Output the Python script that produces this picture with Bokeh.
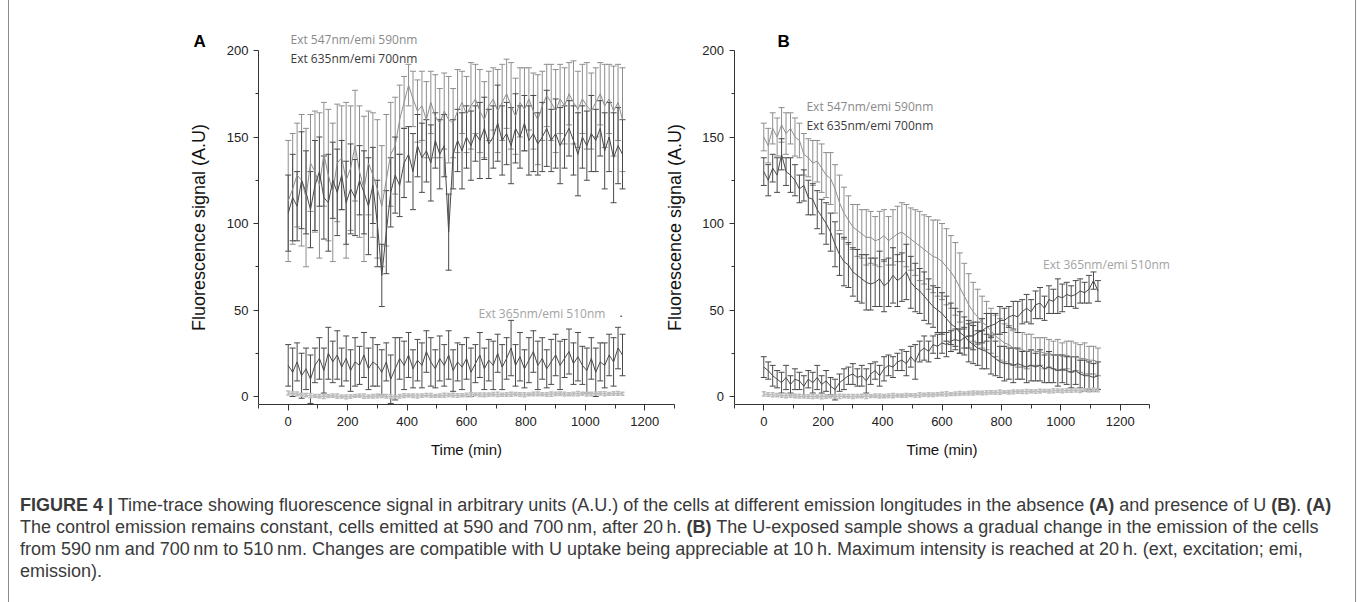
from bokeh.plotting import figure
from bokeh.models import ColumnDataSource, Whisker, TeeHead, Label, Range1d, FixedTicker, Div
from bokeh.layouts import row, column
from bokeh.embed import file_html
from bokeh.resources import INLINE

# ---------------- data ----------------
TIME = list(range(0, 1126, 15))  # minutes, 76 samples

X_TICKS = [0, 200, 400, 600, 800, 1000, 1200]
X_MINOR = [-100, 100, 300, 500, 700, 900, 1100, 1300]
Y_TICKS = [0, 50, 100, 150, 200]
Y_MINOR = [25, 75, 125, 175]

# Panel A (control)
A_590_MEAN = [113,120,128,125,115,135,130,122,140,128,
              118,135,138,125,132,145,130,120,135,128,
              120,110,125,140,145,160,170,180,172,165,
              168,160,170,162,158,165,160,158,165,170,
              163,168,172,165,160,168,172,165,170,175,
              168,162,170,166,172,165,160,168,174,170,
              165,172,168,175,170,166,172,168,165,170,
              175,168,172,165,170,160]
A_590_ERR = [35,32,30,38,40,28,35,42,30,38,
             40,34,30,45,36,32,38,42,30,36,
             40,35,38,30,28,20,15,12,16,18,
             20,22,18,24,20,22,25,20,24,18,
             22,25,20,24,22,20,18,24,22,20,
             25,22,20,24,18,22,26,20,18,22,
             24,20,22,18,24,22,20,25,22,20,
             18,24,20,26,22,30]
A_700_MEAN = [106,115,110,125,118,108,122,130,115,112,
              125,118,128,112,120,115,125,118,110,122,
              100,70,95,118,128,122,135,140,130,145,
              138,142,135,148,140,145,95,140,148,142,
              150,145,152,148,155,146,150,158,148,152,
              145,155,150,158,148,152,146,150,155,148,
              152,145,150,155,148,140,150,145,152,148,
              155,142,150,138,145,140]
A_700_ERR = [22,25,20,28,24,22,26,20,24,28,
             22,25,20,24,26,22,20,24,28,22,
             25,18,24,20,22,18,20,16,22,18,
             20,18,22,16,20,18,22,20,18,22,
             18,20,16,22,18,20,18,22,20,18,
             22,20,18,16,20,22,18,20,22,18,
             20,22,18,16,20,24,18,20,22,18,
             16,22,20,26,22,20]
A_510_MEAN = [18,14,20,12,16,10,18,22,15,25,
              20,24,17,22,15,20,18,24,16,20,
              18,14,20,10,16,22,18,24,16,21,
              18,26,20,16,22,18,24,15,20,17,
              22,14,19,24,16,21,18,25,17,22,
              28,18,23,16,21,26,18,22,16,20,
              24,18,22,26,19,23,18,15,22,14,
              20,18,24,20,28,24]
A_510_ERR = [12,14,11,13,12,14,10,12,13,15,
             12,14,11,13,12,14,11,13,12,14,
             12,13,11,14,18,12,14,13,11,12,
             13,12,14,11,13,12,14,12,11,13,
             12,14,11,13,12,12,14,11,13,12,
             16,12,14,11,13,12,14,12,11,13,
             12,14,11,13,12,14,11,13,12,14,
             11,13,12,14,12,12]
A_BASE_MEAN = [2.0,1.8,1.5,1.0,0.8,0.5,0.3,0.2,0.0,0.3,
               0.5,0.2,0.0,-0.2,0.0,0.3,0.5,0.2,0.0,0.2,
               0.4,0.3,0.1,0.0,-0.3,0.2,0.5,0.6,0.4,0.3,
               0.5,0.8,0.6,0.4,0.5,0.7,0.9,0.8,0.6,0.7,
               0.9,1.0,1.2,1.0,0.9,1.1,1.3,1.2,1.0,1.1,
               1.3,1.4,1.2,1.0,1.2,1.4,1.5,1.3,1.2,1.4,
               1.5,1.6,1.4,1.3,1.5,1.7,1.6,1.4,1.5,1.7,
               1.8,1.6,1.5,1.7,1.8,1.6]
A_BASE_ERR = [1.2,1.0,1.1,0.9,1.0,1.2,0.8,1.0,1.1,0.9,
              1.0,1.2,0.9,1.1,1.0,0.8,1.0,1.2,0.9,1.0,
              1.1,0.9,1.0,1.2,0.8,1.0,1.1,0.9,1.0,1.2,
              0.9,1.0,1.1,0.8,1.0,1.2,0.9,1.1,1.0,0.9,
              1.0,1.2,0.8,1.0,1.1,0.9,1.0,1.2,0.9,1.0,
              1.1,0.9,1.0,1.2,0.8,1.0,1.1,0.9,1.0,1.2,
              0.9,1.0,1.1,0.8,1.0,1.2,0.9,1.1,1.0,0.9,
              1.0,1.2,0.8,1.0,1.1,0.9]

# Panel B (U exposed)
B_590_MEAN = [150,145,155,150,157,152,155,150,148,140,
              138,135,136,132,128,126,120,112,106,102,
              98,96,94,92,92,90,91,93,90,92,
              94,95,93,91,89,87,85,83,81,80,
              78,75,72,68,63,58,53,49,46,43,
              41,38,35,33,31,30,28,27,27,26,
              27,26,26,25,25,24,24,23,24,23,
              23,22,22,21,21,20]
B_590_ERR = [8,10,9,11,10,12,9,11,10,12,
             11,13,12,14,13,15,14,16,15,14,
             13,15,14,16,15,14,16,15,14,16,
             16,17,18,18,19,20,20,21,21,22,
             22,22,21,21,20,19,18,17,16,15,
             14,13,12,12,11,11,10,10,10,10,
             9,8,8,9,8,8,9,8,8,9,
             8,8,9,8,8,8]
B_700_MEAN = [130,125,132,128,140,130,128,125,120,122,
              115,114,108,104,100,95,88,82,78,76,
              72,70,68,66,65,66,68,64,66,70,
              67,69,72,66,63,61,58,55,52,50,
              48,45,42,40,37,35,32,30,28,27,
              26,24,22,20,19,19,18,19,18,17,
              18,17,18,16,17,16,15,16,15,14,
              15,13,12,12,11,12]
B_700_ERR = [8,9,8,10,9,8,10,9,8,9,
             10,9,11,10,12,11,13,12,14,13,
             14,15,14,16,15,14,16,15,14,16,
             15,14,16,15,14,13,14,13,12,13,
             12,13,12,11,12,11,12,11,10,11,
             10,11,10,9,10,9,10,9,8,9,
             9,8,9,8,9,8,9,8,8,9,
             8,8,9,8,8,8]
B_510_MEAN = [17,15,12,10,8,11,7,10,9,6,
              10,8,11,7,9,6,4,8,10,12,
              13,11,12,9,13,15,12,16,18,17,
              20,21,19,23,20,26,28,26,30,29,
              31,30,32,33,32,34,35,35,37,38,
              40,41,42,44,44,46,47,46,49,51,
              49,53,54,51,56,55,58,57,59,58,
              59,61,60,62,67,61]
B_510_ERR = [6,5,6,5,6,7,5,6,5,6,
             5,6,7,5,6,5,6,5,6,5,
             6,5,6,7,6,5,6,7,6,6,
             5,6,7,6,10,6,7,6,5,7,
             6,7,6,6,7,6,7,8,6,7,
             8,7,6,8,7,6,8,9,7,8,
             7,8,9,7,8,7,10,8,7,6,
             8,7,6,8,5,6]
B_BASE_MEAN = [1.5,1.2,1.0,0.8,0.6,0.5,0.4,0.3,0.2,0.1,
               0.0,0.1,0.0,-0.2,0.0,0.1,0.0,0.1,0.2,0.1,
               0.0,0.2,0.3,0.1,0.2,0.4,0.3,0.2,0.4,0.5,
               0.6,0.5,0.7,0.8,0.6,0.9,1.0,1.1,1.0,1.2,
               1.4,1.5,1.4,1.6,1.8,1.7,1.9,2.0,2.1,2.0,
               2.2,2.4,2.3,2.5,2.6,2.5,2.7,2.8,2.7,2.9,
               3.0,2.9,3.1,3.2,3.0,3.3,3.4,3.2,3.5,3.4,
               3.6,3.5,3.7,3.6,3.8,3.7]
B_BASE_ERR = A_BASE_ERR

GREY = "#8e8e8e"
DARK = "#4a4a4a"
LIGHT = "#bdbdbd"

TICK_FONT = "Liberation Sans"
NOTE_FONT = "Open Sans"

# ---------------- geometry (page pixels) ----------------
SX = 416.0 / 1400.0          # px per minute
SY = 354.0 / 204.62          # px per A.U.
Y_LO, Y_AX_TOP = -4.62, 200.0
FRAME_TOP = 20               # page y of frame top
FRAME_BOT = 404              # page y of x axis
Y_HI = Y_AX_TOP + (50 - FRAME_TOP) / SY
X0_A, X0_B = 287.7, 763.3    # page x of t=0 in each panel
Y0 = 396.0                   # page y of value 0


def px_x(page_x, x0):
    return (page_x - x0) / SX


def px_y(page_y):
    return (Y0 - page_y) / SY


def add_series(p, mean, err, color, lw=1.0, head=6):
    lower = [m - e for m, e in zip(mean, err)]
    upper = [m + e for m, e in zip(mean, err)]
    src = ColumnDataSource(dict(t=TIME, m=mean, lo=lower, up=upper))
    w = Whisker(source=src, base="t", lower="lo", upper="up",
                line_color=color, line_width=lw,
                lower_head=TeeHead(size=head, line_color=color, line_width=lw),
                upper_head=TeeHead(size=head, line_color=color, line_width=lw))
    p.add_layout(w)
    p.line("t", "m", source=src, line_color=color, line_width=lw)


def make_panel(frame_left, frame_right, x0, border_left, border_right):
    x_start = px_x(frame_left, x0)
    x_end = px_x(frame_right, x0)
    p = figure(width=border_left + int(round(frame_right - frame_left)) + border_right,
               height=FRAME_TOP + (FRAME_BOT - FRAME_TOP) + 60,
               x_range=Range1d(x_start, x_end), y_range=Range1d(Y_LO, Y_HI),
               output_backend="svg", toolbar_location=None,
               min_border_left=border_left, min_border_right=border_right,
               min_border_top=FRAME_TOP, min_border_bottom=60)
    p.xgrid.visible = False
    p.ygrid.visible = False
    p.outline_line_color = None
    p.background_fill_color = None
    p.border_fill_color = None
    p.xaxis.ticker = FixedTicker(ticks=X_TICKS, minor_ticks=X_MINOR)
    p.yaxis.ticker = FixedTicker(ticks=Y_TICKS, minor_ticks=Y_MINOR)
    p.xaxis.bounds = (-100, 1300)
    p.yaxis.bounds = (Y_LO, Y_AX_TOP)
    p.yaxis.fixed_location = -100
    for ax in (p.xaxis, p.yaxis):
        ax.axis_line_color = "#333333"
        ax.major_tick_line_color = "#333333"
        ax.minor_tick_line_color = "#333333"
        ax.major_tick_in = 0
        ax.minor_tick_in = 0
        ax.major_label_text_font = TICK_FONT
        ax.major_label_text_font_size = "13px"
        ax.major_label_text_color = "#222222"
        ax.axis_label_text_font = TICK_FONT
        ax.axis_label_text_font_style = "normal"
        ax.axis_label_text_color = "#111111"
    p.xaxis.major_tick_out = 6
    p.xaxis.minor_tick_out = 4
    p.yaxis.major_tick_out = 5
    p.yaxis.minor_tick_out = 3
    p.xaxis.major_label_standoff = 6
    p.yaxis.major_label_standoff = 5
    p.xaxis.axis_label = "Time (min)"
    p.xaxis.axis_label_text_font_size = "15px"
    p.xaxis.axis_label_standoff = 12
    p.yaxis.axis_label = "Fluorescence signal (A.U)"
    p.yaxis.axis_label_text_font_size = "18px"
    p.yaxis.axis_label_standoff = 15
    return p


def note(p, x, y, text, color, size="12px", font=NOTE_FONT, style="normal", baseline="middle"):
    p.add_layout(Label(x=x, y=y, text=text, text_color=color, text_font=font,
                       text_font_size=size, text_font_style=style,
                       text_baseline=baseline, text_align="left"))


# axis centres (page x) so that the x-axis title is centred under the drawn axis
CEN_A = (X0_A - 100 * SX + X0_A + 1300 * SX) / 2.0
CEN_B = (X0_B - 100 * SX + X0_B + 1300 * SX) / 2.0

# ---------------- panel A ----------------
A_LEFT = 13
A_RIGHT = 2 * CEN_A - A_LEFT
pa = make_panel(A_LEFT, A_RIGHT, X0_A, 4, 0)
add_series(pa, A_590_MEAN, A_590_ERR, GREY)
add_series(pa, A_700_MEAN, A_700_ERR, DARK)
add_series(pa, A_510_MEAN, A_510_ERR, DARK)
add_series(pa, A_BASE_MEAN, A_BASE_ERR, LIGHT, lw=1.5, head=4)
note(pa, px_x(193, X0_A), px_y(41), "A", "#000000", size="17px",
     font="Liberation Sans", style="bold", baseline="alphabetic")
note(pa, px_x(290, X0_A), px_y(39), "Ext 547nm/emi 590nm", "#8a8a8a")
note(pa, px_x(290, X0_A), px_y(57.7), "Ext 635nm/emi 700nm", "#3c3c3c")
note(pa, px_x(478, X0_A), px_y(312.7), "Ext 365nm/emi 510nm", "#a3a3a3")
note(pa, px_x(619, X0_A), px_y(312), ".", "#333333")

# ---------------- panel B ----------------
B_LEFT = 662
B_RIGHT = 2 * CEN_B - B_LEFT
pb = make_panel(B_LEFT, B_RIGHT, X0_B, 0, 4)
a_end = 9 + pa.width          # page x where figure A ends
pb.margin = (0, 0, 0, -int(round(a_end - B_LEFT)))
add_series(pb, B_590_MEAN, B_590_ERR, GREY)
add_series(pb, B_700_MEAN, B_700_ERR, DARK)
add_series(pb, B_510_MEAN, B_510_ERR, DARK)
add_series(pb, B_BASE_MEAN, B_BASE_ERR, LIGHT, lw=1.5, head=4)
note(pb, px_x(777, X0_B), px_y(41), "B", "#000000", size="17px",
     font="Liberation Sans", style="bold", baseline="alphabetic")
note(pb, px_x(806, X0_B), px_y(106), "Ext 547nm/emi 590nm", "#8a8a8a")
note(pb, px_x(806, X0_B), px_y(124.7), "Ext 635nm/emi 700nm", "#3c3c3c")
note(pb, px_x(1042.7, X0_B), px_y(264), "Ext 365nm/emi 510nm", "#a3a3a3")

# ---------------- caption ----------------
ts = "\u2009"
caption_lines = [
    "<b>FIGURE 4 |</b> Time-trace showing fluorescence signal in arbitrary units (A.U.) of the cells at different "
    "emission longitudes in the absence <b>(A)</b> and presence of U <b>(B)</b>. <b>(A)</b>",
    f"The control emission remains constant, cells emitted at 590 and 700{ts}nm, after 20{ts}h. <b>(B)</b> "
    "The U-exposed sample shows a gradual change in the emission of the cells",
    f"from 590{ts}nm and 700{ts}nm to 510{ts}nm. Changes are compatible with U uptake being appreciable at 10{ts}h. "
    f"Maximum intensity is reached at 20{ts}h. (ext, excitation; emi,",
    "emission).",
]
cap_html = ('<div style="font-family: \'Liberation Sans\', Arial, sans-serif; font-size:18px; '
            'line-height:22px; color:#3a3a3a; padding:25px 0 0 6px; white-space:nowrap;">'
            + "<br>".join(caption_lines) + "</div>")
cap = Div(text=cap_html, width=1340, height=134)

layout = column(row(pa, pb), cap, width=1348, margin=(0, 0, 0, 8),
                styles={"border-left": "1px solid #8c8c8c", "border-right": "1px solid #8c8c8c"})

open("out.html", "w").write(file_html(layout, INLINE))
